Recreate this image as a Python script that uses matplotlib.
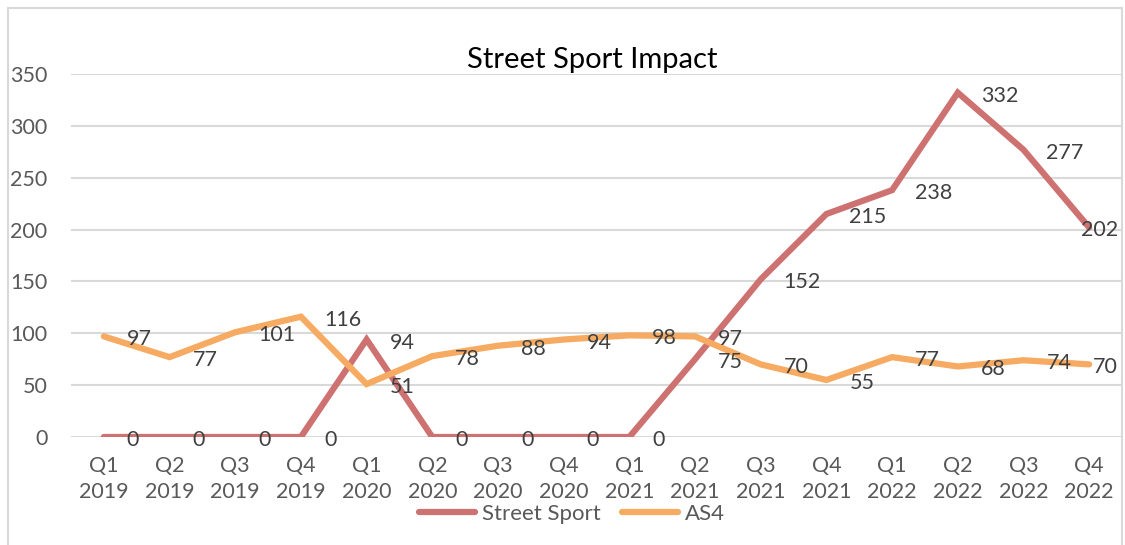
import matplotlib
matplotlib.use('Agg')
import matplotlib.pyplot as plt
from matplotlib.patches import Rectangle

plt.rcParams['font.family'] = ['Lato', 'DejaVu Sans']

quarters = ['Q1\n2019', 'Q2\n2019', 'Q3\n2019', 'Q4\n2019',
            'Q1\n2020', 'Q2\n2020', 'Q3\n2020', 'Q4\n2020',
            'Q1\n2021', 'Q2\n2021', 'Q3\n2021', 'Q4\n2021',
            'Q1\n2022', 'Q2\n2022', 'Q3\n2022', 'Q4\n2022']
street_sport = [0, 0, 0, 0, 94, 0, 0, 0, 0, 75, 152, 215, 238, 332, 277, 202]
as4 = [97, 77, 101, 116, 51, 78, 88, 94, 98, 97, 70, 55, 77, 68, 74, 70]

red = '#CD7271'
orange = '#F7AB62'
txt = '#404040'

fig = plt.figure(figsize=(11.25, 5.45), dpi=100)
ax = fig.add_axes([71/1125, 1-437/545, (1122-71)/1125, (437-74)/545])

x = range(len(quarters))
ax.plot(x, street_sport, color=red, lw=4.5, label='Street Sport', solid_capstyle='round', solid_joinstyle='miter')
ax.plot(x, as4, color=orange, lw=4.5, label='AS4', solid_capstyle='round', solid_joinstyle='miter')

# data labels sit to the right of each point, like Excel's "Right" position
last = len(quarters) - 1
for series in (street_sport, as4):
    for i in x:
        if i == last:
            # excel pulls the last label back inside the chart
            ax.annotate(str(series[i]), (i, series[i]), xytext=(29, -3), textcoords='offset pixels',
                        ha='right', va='center', fontsize=15.5, color=txt)
        else:
            ax.annotate(str(series[i]), (i, series[i]), xytext=(23, -3), textcoords='offset pixels',
                        ha='left', va='center', fontsize=15.5, color=txt)

ax.set_xlim(-0.5, len(quarters) - 0.5)
ax.set_ylim(0, 350)
ax.set_yticks(range(0, 351, 50))
ax.set_xticks(list(x))
ax.set_xticklabels(quarters, linespacing=1.35)
ax.grid(axis='y', color='#D9D9D9', lw=1.5)
ax.set_axisbelow(True)
for s in ax.spines.values():
    s.set_visible(False)
ax.tick_params(length=0, labelsize=15.5, colors='#595959')
ax.tick_params(axis='y', pad=17)
ax.tick_params(axis='x', pad=14)

fig.text(592/1125, 1-60/545, 'Street Sport Impact', ha='center', va='center', fontsize=21, color='black')

fig.legend(loc='center', bbox_to_anchor=(572/1125, 1-514/545), ncol=2, frameon=False,
           fontsize=16, handlelength=2.5, columnspacing=1.0, labelcolor='#595959',
           handletextpad=0.3)

fig.patches.append(Rectangle((8/1125, -0.05), (1122-8)/1125, 1-8/545+0.05, transform=fig.transFigure,
                             fill=False, edgecolor='#D9D9D9', lw=1.5))

fig.savefig('out.png', dpi=100)
